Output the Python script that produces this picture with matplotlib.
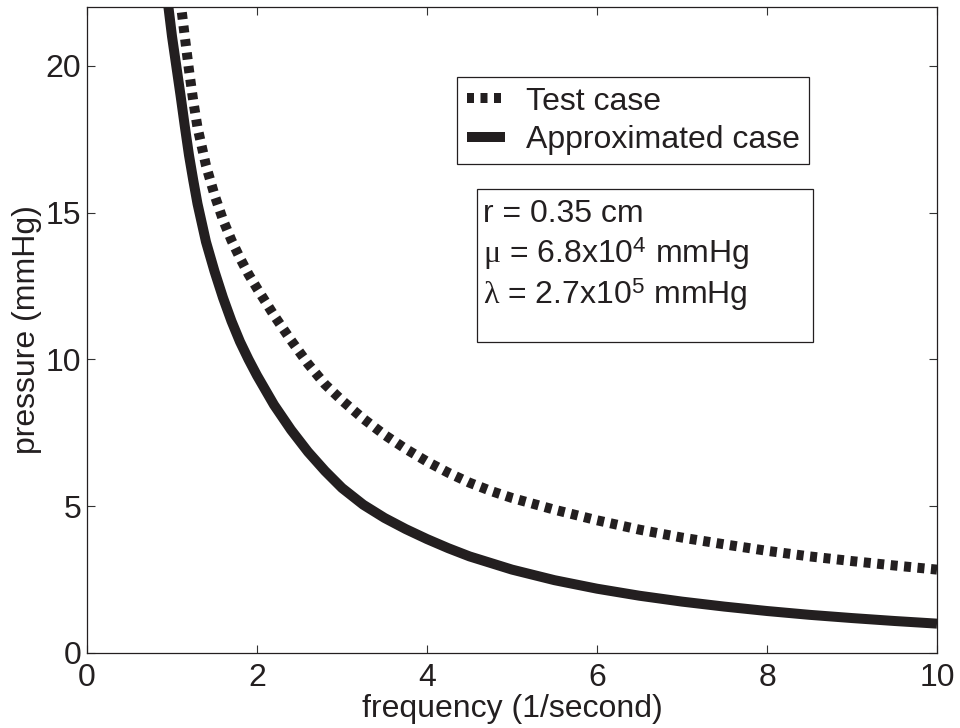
import matplotlib
matplotlib.use("Agg")
import matplotlib.pyplot as plt
from matplotlib.patches import Rectangle

plt.rcParams["font.family"] = ["Liberation Sans", "DejaVu Sans"]
plt.rcParams["mathtext.fontset"] = "custom"
plt.rcParams["mathtext.rm"] = "Liberation Sans"
plt.rcParams["mathtext.it"] = "Liberation Serif"
plt.rcParams["mathtext.bf"] = "Liberation Sans:bold"

INK = "#231f20"
FS = 23

# Test case (dotted curve)
test_freq = [1.07, 1.10, 1.15, 1.20, 1.25, 1.30, 1.40, 1.50, 1.60, 1.70, 1.80,
             1.90, 2.00, 2.20, 2.40, 2.60, 2.80, 3.00, 3.25, 3.50, 3.75, 4.00,
             4.25, 4.50, 4.75, 5.00, 5.50, 6.00, 6.50, 7.00, 7.50, 8.00, 8.50,
             9.00, 9.50, 10.0]
test_pres = [23.0, 22.2, 21.0, 19.85, 18.8, 17.9, 16.6, 15.6, 14.75, 14.05, 13.45,
             12.9, 12.42, 11.5, 10.65, 9.85, 9.15, 8.6, 7.98, 7.43, 6.95, 6.52,
             6.14, 5.8, 5.52, 5.28, 4.88, 4.52, 4.2, 3.93, 3.7, 3.48, 3.29,
             3.13, 2.98, 2.84]

# Approximated case (solid curve)
approx_freq = [0.91, 0.96, 1.00, 1.05, 1.10, 1.15, 1.20, 1.25, 1.30, 1.40, 1.50,
               1.60, 1.70, 1.80, 1.90, 2.00, 2.20, 2.40, 2.60, 2.80, 3.00, 3.25,
               3.50, 3.75, 4.00, 4.25, 4.50, 5.00, 5.50, 6.00, 6.50, 7.00, 7.50,
               8.00, 8.50, 9.00, 9.50, 10.0]
approx_pres = [23.0, 21.95, 21.0, 20.0, 19.0, 17.95, 16.95, 16.1, 15.3, 14.0, 13.0,
               12.1, 11.3, 10.6, 10.0, 9.45, 8.45, 7.6, 6.85, 6.2, 5.62, 5.05,
               4.6, 4.22, 3.88, 3.57, 3.29, 2.84, 2.48, 2.19, 1.95, 1.75, 1.58,
               1.43, 1.30, 1.19, 1.09, 1.0]

x_ticks = [0, 2, 4, 6, 8, 10]
y_ticks = [0, 5, 10, 15, 20]
legend_labels = ["Test case", "Approximated case"]
param_lines = ["r = 0.35 cm",
               r"$\mu$ = 6.8x$10^4$ mmHg",
               r"$\lambda$ = 2.7x$10^5$ mmHg"]

W, H = 960, 728
fig = plt.figure(figsize=(W / 100, H / 100), dpi=100)
ax = fig.add_axes([87 / W, 1 - 653 / H, 850 / W, 646 / H])

lw = 7.2
ax.plot(test_freq, test_pres, color=INK, lw=lw, linestyle=(0, (0.7, 0.65)),
        dash_capstyle="butt", label=legend_labels[0])
ax.plot(approx_freq, approx_pres, color=INK, lw=lw, solid_capstyle="butt",
        solid_joinstyle="round", label=legend_labels[1])

ax.set_xlim(0, 10)
ax.set_ylim(0, 22)
ax.set_xticks(x_ticks)
ax.set_yticks(y_ticks)
ax.tick_params(direction="in", length=5.8, width=0.8, color="#333333",
               top=True, right=True, labelsize=FS, labelcolor=INK)
ax.tick_params(axis="x", pad=7)
ax.tick_params(axis="y", pad=4)
for s in ax.spines.values():
    s.set_color(INK)
    s.set_linewidth(0.9)

ax.set_xlabel("frequency (1/second)", fontsize=FS, color=INK, labelpad=1)
ax.set_ylabel("pressure (mmHg)", fontsize=FS, color=INK, labelpad=3)

leg = ax.legend(loc="upper left", bbox_to_anchor=(457 / W, 1 - 77 / H),
                bbox_transform=fig.transFigure, borderaxespad=0,
                fontsize=FS, handlelength=1.2, handletextpad=0.65,
                borderpad=0.3, labelspacing=0.26, fancybox=False,
                framealpha=1, edgecolor=INK)
leg.get_frame().set_linewidth(0.9)
for t in leg.get_texts():
    t.set_color(INK)

# parameter box
fig.patches.append(Rectangle((477 / W, 1 - 342 / H), (813 - 477) / W,
                             (342 - 189) / H, transform=fig.transFigure,
                             fill=False, edgecolor=INK, linewidth=0.9))
for line, base in zip(param_lines, [221.7, 263, 304]):
    fig.text(483 / W, 1 - base / H, line, fontsize=FS, color=INK,
             va="baseline", ha="left")

fig.savefig("out.png", dpi=100)
